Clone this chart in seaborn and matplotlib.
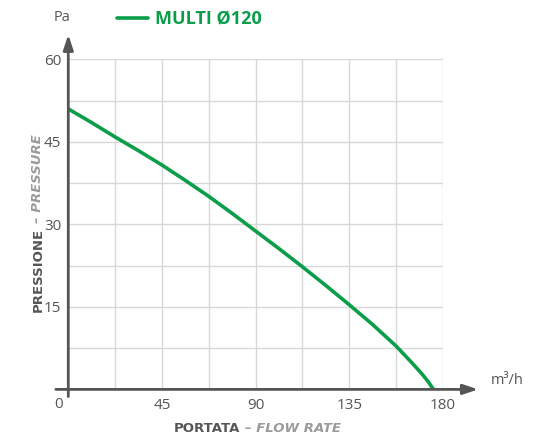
import numpy as np
import pandas as pd
import matplotlib
matplotlib.use("Agg")
import matplotlib.pyplot as plt
import seaborn as sns

# curve
flow = [0, 11.25, 22.5, 33.75, 45, 56.25, 67.5, 78.75, 90, 101.25, 112.5,
        123.75, 135, 146.25, 157.5, 165, 170, 173, 175.5]
pressure = [51.0, 48.5, 45.9, 43.4, 40.8, 38.0, 35.1, 32.0, 28.8, 25.6, 22.3,
            18.9, 15.4, 11.8, 7.9, 4.9, 2.8, 1.4, 0.0]
x_ticks = [45, 90, 135, 180]
y_ticks = [15, 30, 45, 60]
series_name = "MULTI Ø120"

green = "#0a9e4a"
dark = "#555555"
light = "#9a9a9a"
grid_col = "#d8d8d8"

sns.set_style("white")
plt.rcParams['font.family'] = ['Open Sans', 'DejaVu Sans']

df = pd.DataFrame({'flow': flow, 'pressure': pressure})

fig = plt.figure(figsize=(5.42, 4.4), dpi=100)
ax = fig.add_axes([0.126, 0.115, 0.691, 0.75])

# grid
for gx in np.arange(22.5, 180.1, 22.5):
    ax.axvline(gx, ymin=0, ymax=1, color=grid_col, lw=1, zorder=0)
for gy in np.arange(7.5, 60.1, 7.5):
    ax.axhline(gy, xmin=0, xmax=1, color=grid_col, lw=1, zorder=0)

sns.lineplot(data=df, x='flow', y='pressure', color=green, lw=2.6, ax=ax,
             label=series_name, zorder=3)

ax.set_xlim(0, 180)
ax.set_ylim(0, 60)
for s in ax.spines.values():
    s.set_visible(False)

# axes with arrows
ax.annotate("", xy=(197, 0), xytext=(-6, 0), xycoords='data',
            arrowprops=dict(arrowstyle="-|>,head_length=0.9,head_width=0.3",
                            color=dark, lw=2, shrinkA=0, shrinkB=0),
            annotation_clip=False, zorder=4)
ax.annotate("", xy=(0, 64.5), xytext=(0, -1.3), xycoords='data',
            arrowprops=dict(arrowstyle="-|>,head_length=0.9,head_width=0.3",
                            color=dark, lw=2, shrinkA=0, shrinkB=0),
            annotation_clip=False, zorder=4)

ax.set_xticks(x_ticks)
ax.set_yticks(y_ticks)
ax.tick_params(axis='both', length=0, labelsize=11, colors=dark)
ax.tick_params(axis='x', pad=6)
ax.tick_params(axis='y', pad=5)
ax.set_xlabel("")
ax.set_ylabel("")
ax.text(-2.5, -1.4, "0", ha='right', va='top', fontsize=11, color=dark)

# units
ax.text(-3, 66.2, "Pa", ha='center', va='bottom', fontsize=10.5, color=dark)
ax.text(203, 0.3, "m³/h", ha='left', va='bottom', fontsize=10.5, color=dark)

# axis titles
title_font = dict(family='DejaVu Sans', fontsize=9.5, fontweight='bold')
fig.text(0.443, 0.027, "PORTATA", ha='right', va='center', color=dark, **title_font)
fig.text(0.452, 0.027, "– FLOW RATE", ha='left', va='center', fontstyle='italic',
         color=light, **title_font)
fig.text(0.070, 0.482, "PRESSIONE", ha='center', va='top', rotation=90,
         color=dark, **title_font)
fig.text(0.070, 0.494, "– PRESSURE", ha='center', va='bottom', rotation=90,
         fontstyle='italic', color=light, **title_font)

# legend
leg = ax.legend(loc='center left', bbox_to_anchor=(0.087, 1.12), frameon=False,
                handlelength=1.7, handletextpad=0.4,
                labelcolor=green, prop={'weight': 'bold', 'size': 13})

fig.savefig("out.png", dpi=100)
